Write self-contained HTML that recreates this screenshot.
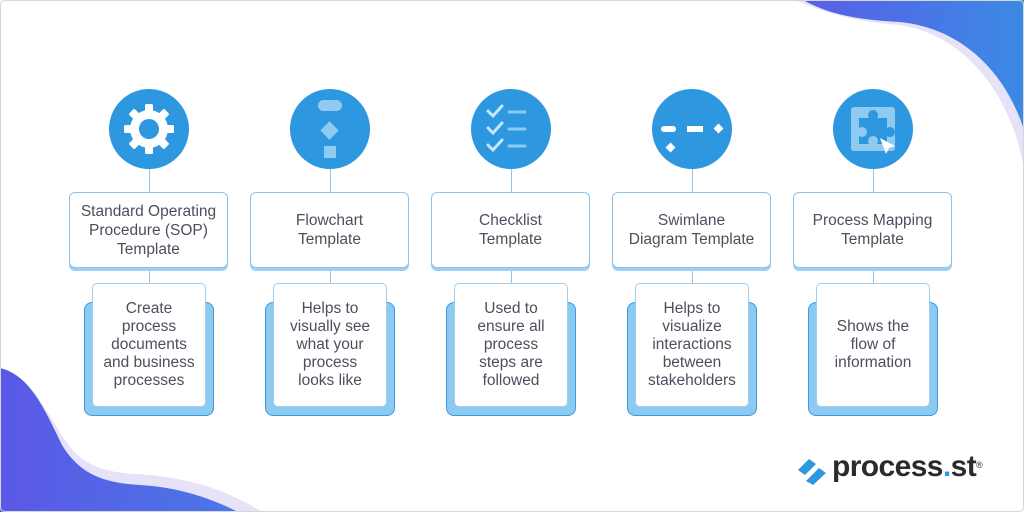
<!DOCTYPE html>
<html><head><meta charset="utf-8"><style>
body{margin:0;width:1024px;height:512px;overflow:hidden;background:#fff;font-family:"Liberation Sans",sans-serif;}
.pg{position:absolute;left:0;top:0;width:1024px;height:512px;}
.col{position:absolute;top:0;width:181px;height:512px;}
.circ{position:absolute;left:50px;top:89px;width:80px;height:80px;border-radius:50%;background:#2d97e0;}
.vl{position:absolute;left:89.5px;width:1.5px;background:#8cc6ef;}
.title{position:absolute;left:10px;top:192px;width:157px;height:74px;border:1px solid #88c4ee;border-radius:6px;background:#fff;box-shadow:0 3px 0 #9fd0f3;display:flex;align-items:center;justify-content:center;text-align:center;color:#4a505c;font-size:15.5px;line-height:19px;}
.back{position:absolute;left:25px;top:302px;width:128px;height:112px;border:1px solid #3b9ae2;border-radius:8px;background:#8ccaf0;}
.desc{position:absolute;left:33px;top:283px;width:112px;height:122px;border:1px solid #9dcff2;border-radius:5px;background:#fff;display:flex;align-items:center;justify-content:center;text-align:center;color:#4a505c;font-size:15.5px;line-height:18px;}
</style></head><body>
<svg class="pg" viewBox="0 0 1024 512">
<defs><linearGradient id="g1" x1="0" x2="1"><stop offset="0" stop-color="#5a5ee8"/><stop offset="1" stop-color="#3a8ae4"/></linearGradient>
<linearGradient id="g2" x1="0" x2="1"><stop offset="0" stop-color="#5b57e6"/><stop offset="1" stop-color="#4a78e6"/></linearGradient></defs>
<path d="M795 0 C830 15,860 22,900 25 C965 35,1012 95,1024 170 L1024 0Z" fill="#e6e2f8"/>
<path d="M803 0 C830 15,860 20,900 22 C960 28,1005 70,1024 130 L1024 0Z" fill="url(#g1)"/>
<path d="M0 368 C30 375,45 410,65 440 C85 470,110 473,150 475 C200 480,235 495,262 512 L0 512Z" fill="#e6e2f8"/>
<path d="M0 368 C30 375,45 410,62 445 C80 475,105 483,140 485 C180 487,215 500,238 512 L0 512Z" fill="url(#g2)"/>
<rect x="0.5" y="0.5" width="1023" height="511" rx="4" fill="none" stroke="#d6d6dc"/>
</svg>

<div class="col" style="left:59px"><div class="vl" style="top:169px;height:24px"></div><div class="vl" style="top:268px;height:16px"></div>
<div class="circ"><svg width="80" height="80" viewBox="0 0 80 80"><g fill="#fff" transform="translate(40 40)">
<g id="t"><rect x="-4" y="-25" width="8" height="10" rx="1.5"/></g><use href="#t" transform="rotate(45)"/><use href="#t" transform="rotate(90)"/><use href="#t" transform="rotate(135)"/><use href="#t" transform="rotate(180)"/><use href="#t" transform="rotate(225)"/><use href="#t" transform="rotate(270)"/><use href="#t" transform="rotate(315)"/>
<circle r="19"/></g><circle cx="40" cy="40" r="10" fill="#2d97e0"/></svg></div>
<div class="title">Standard Operating<br>Procedure (SOP)<br>Template</div>
<div class="back"></div><div class="desc">Create<br>process<br>documents<br>and business<br>processes</div></div>

<div class="col" style="left:240px"><div class="vl" style="top:169px;height:24px"></div><div class="vl" style="top:268px;height:16px"></div>
<div class="circ"><svg width="80" height="80" viewBox="0 0 80 80" fill="#8fcbf1"><rect x="28" y="11" width="24" height="11" rx="5.5"/><rect x="33" y="35" width="13" height="13" transform="rotate(45 39.5 41.5)"/><rect x="34" y="57" width="12" height="12"/></svg></div>
<div class="title">Flowchart<br>Template</div>
<div class="back"></div><div class="desc">Helps to<br>visually see<br>what your<br>process<br>looks like</div></div>

<div class="col" style="left:421px"><div class="vl" style="top:169px;height:24px"></div><div class="vl" style="top:268px;height:16px"></div>
<div class="circ"><svg width="80" height="80" viewBox="0 0 80 80"><g stroke="#8fcbf1" stroke-width="3" stroke-linecap="round" fill="none"><path d="M38 23H54M38 40H54M38 57H54"/><path d="M17 22l5 5 9-10M17 39l5 5 9-10M17 56l5 5 9-10" stroke="#c8e6fa"/></g></svg></div>
<div class="title">Checklist<br>Template</div>
<div class="back"></div><div class="desc">Used to<br>ensure all<br>process<br>steps are<br>followed</div></div>

<div class="col" style="left:602px"><div class="vl" style="top:169px;height:24px"></div><div class="vl" style="top:268px;height:16px"></div>
<div class="circ"><svg width="80" height="80" viewBox="0 0 80 80" fill="#fff"><rect x="9" y="37" width="15" height="6" rx="3"/><rect x="35" y="37" width="16" height="6"/><rect x="63" y="36" width="7" height="7" transform="rotate(45 66.5 39.5)"/><rect x="15" y="55" width="7" height="7" transform="rotate(45 18.5 58.5)"/></svg></div>
<div class="title">Swimlane<br>Diagram Template</div>
<div class="back"></div><div class="desc">Helps to<br>visualize<br>interactions<br>between<br>stakeholders</div></div>

<div class="col" style="left:783px"><div class="vl" style="top:169px;height:24px"></div><div class="vl" style="top:268px;height:16px"></div>
<div class="circ"><svg width="80" height="80" viewBox="0 0 80 80"><rect x="18" y="18" width="44" height="44" rx="3" fill="#8fcbf1"/><path d="M26 29h10a5 5 0 1 1 8 0h10v10a5 5 0 1 1 0 8v8h-10a5 5 0 1 0-8 0h-10v-8a5 5 0 1 0 0-8z" fill="#2d97e0"/><path d="M47 49l15 8-6 2-3 6z" fill="#fff"/></svg></div>
<div class="title">Process Mapping<br>Template</div>
<div class="back"></div><div class="desc">Shows the<br>flow of<br>information</div></div>

<svg style="position:absolute;left:797px;top:456px" width="32" height="30" viewBox="0 0 32 30"><path d="M1 14L12 3l7 5-11 11z" fill="#2d97e0"/><path d="M9 25l13-13 7 5-13 12z" fill="#2d97e0"/></svg>
<div style="position:absolute;left:832px;top:449px;font-size:30px;font-weight:bold;color:#2b2b2e;letter-spacing:-0.6px;line-height:36px">process<span style="color:#2d97e0">.</span>st<sup style="font-size:9px;font-weight:normal;vertical-align:top;position:relative;top:-2px">®</sup></div>
</body></html>
